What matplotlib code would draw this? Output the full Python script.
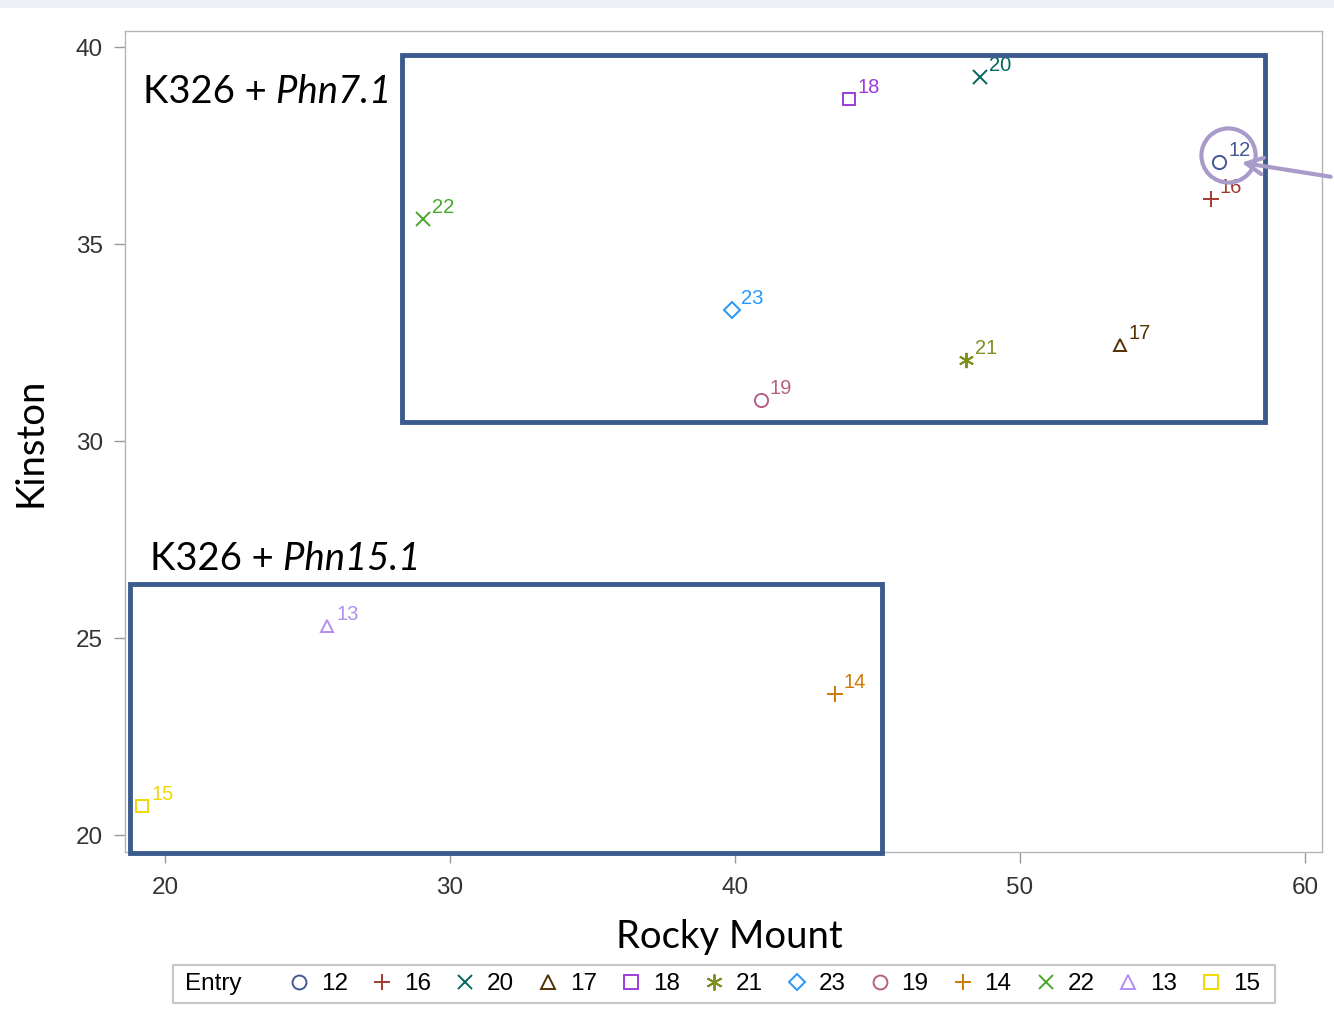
import matplotlib
matplotlib.use("Agg")
import matplotlib.pyplot as plt
import matplotlib.transforms as mtransforms
from matplotlib.lines import Line2D
from matplotlib.patches import Rectangle

# Data
entries = ["12", "16", "20", "17", "18", "21", "23", "19", "14", "22", "13", "15"]
rockyMount = [57.0, 56.7, 48.6, 53.5, 44.0, 48.1, 39.9, 40.9, 43.5, 29.05, 25.7, 19.2]
kinston = [37.08, 36.14, 39.24, 32.44, 38.68, 32.06, 33.32, 31.04, 23.58, 35.63, 25.3, 20.74]
colors = ["#445694", "#A23A2E", "#01665E", "#543005", "#9D3CDB", "#7F8E1F",
          "#2597FA", "#B26084", "#D17800", "#47A82A", "#B38EF3", "#F0D800"]
markers = ["o", "+", "x", "^", "s", (6, 2, 0), "D", "o", "+", "x", "^", "s"]
sizes = [9.5, 11, 10, 9, 9, 11, 8, 9.5, 11, 10, 9, 9]

xTicks = [20, 30, 40, 50, 60]
yTicks = [20, 25, 30, 35, 40]

# group boxes (x0, y0, x1, y1) and their labels
groupBoxes = [(28.33, 30.48, 58.6, 39.80), (18.77, 19.54, 45.15, 26.37)]
groupLabels = [("K326 +", " Phn7.1", 19.23, 38.58), ("K326 +", " Phn15.1", 19.47, 26.73)]

boxColor = "#3b5b8c"
noteColor = "#a99bc9"
labelFont = "Lato"
tickFont = "Liberation Sans"

fig = plt.figure(figsize=(13.34, 10.21), dpi=100)
ax = fig.add_axes([0.0937, 0.1655, 0.8973, 0.8041])

# top window strip
fig.patches.append(Rectangle((0, 1 - 8 / 1021), 1, 8 / 1021, transform=fig.transFigure,
                             facecolor="#eceff3", edgecolor="none"))

for e, x, y, c, m, s in zip(entries, rockyMount, kinston, colors, markers, sizes):
    ax.plot(x, y, linestyle="none", marker=m, markersize=s, markerfacecolor="none",
            markeredgecolor=c, markeredgewidth=1.4, zorder=3)
    ax.annotate(e, (x, y), xytext=(6.5, 8.5), textcoords="offset points", color=c,
                fontsize=14.5, family=tickFont, ha="left", va="center", zorder=3)

for (x0, y0, x1, y1) in groupBoxes:
    ax.add_patch(Rectangle((x0, y0), x1 - x0, y1 - y0, fill=False, edgecolor=boxColor,
                           linewidth=3.5, clip_on=False, zorder=4))

for plain, ital, tx, ty in groupLabels:
    t1 = ax.text(tx, ty, plain, fontsize=27.5, family=labelFont, va="baseline", ha="left")
    ax.annotate(ital, xy=(1, 0), xycoords=t1, va="bottom", ha="left",
                fontsize=27.5, family=labelFont, style="italic")

# highlight circle around entry 12 and arrow
ringTrans = mtransforms.offset_copy(ax.transData, fig=fig, x=9, y=7, units="dots")
ax.plot(rockyMount[0], kinston[0], marker="o", markersize=39, markerfacecolor="none",
        markeredgecolor=noteColor, markeredgewidth=3, transform=ringTrans, zorder=5)
ax.annotate("", xy=(57.68, 37.08), xytext=(61.0, 36.70),
            arrowprops=dict(arrowstyle="->", color=noteColor, lw=3, mutation_scale=30),
            annotation_clip=False, zorder=5)

ax.set_xlim(18.6, 60.6)
ax.set_ylim(19.57, 40.41)
ax.set_xticks(xTicks)
ax.set_yticks(yTicks)
for lab in ax.get_xticklabels() + ax.get_yticklabels():
    lab.set_family(tickFont)
ax.tick_params(axis="both", direction="out", length=8, width=1, color="#9a9a9a",
               labelsize=17.5, labelcolor="#333333")
ax.tick_params(axis="x", pad=10)
ax.tick_params(axis="y", pad=8)
for sp in ax.spines.values():
    sp.set_color("#b4b4b4")
    sp.set_linewidth(1)

ax.set_xlabel("Rocky Mount", fontsize=27.5, family=labelFont, va="center")
ax.set_ylabel("Kinston", fontsize=27.5, family=labelFont, va="center")
ax.xaxis.set_label_coords(0.505, -0.1035)
ax.yaxis.set_label_coords(-0.079, 0.499)

# legend
handles = [Line2D([], [], linestyle="none", marker=m, markersize=s * 1.05, markerfacecolor="none",
                  markeredgecolor=c, markeredgewidth=1.4, label=e)
           for e, c, m, s in zip(entries, colors, markers, sizes)]
fig.legend(handles=handles, loc="center", bbox_to_anchor=(0.58, 0.036), ncol=12,
           frameon=False, handlelength=1.0, handletextpad=0.4, columnspacing=0.9,
           prop={"family": tickFont, "size": 17.5})
fig.text(185 / 1334, 1 - 984 / 1021, "Entry", fontsize=17.5, family=tickFont, va="center", ha="left")
fig.patches.append(Rectangle((173 / 1334, 1 - 1003 / 1021), (1275 - 173) / 1334, 38 / 1021,
                             transform=fig.transFigure, fill=False, edgecolor="#c8c8c8",
                             linewidth=1.5))

fig.savefig("out.png", dpi=100)
